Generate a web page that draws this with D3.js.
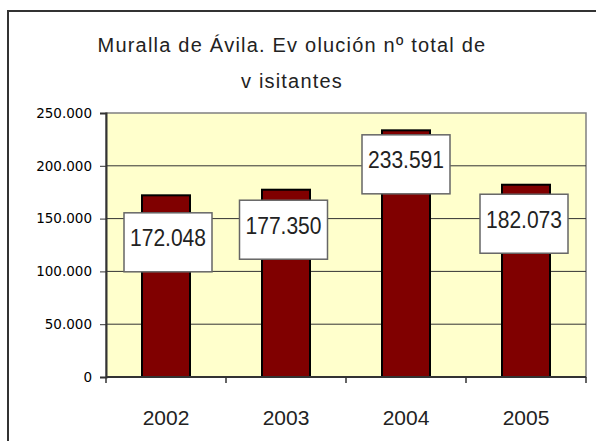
<!DOCTYPE html>
<html>
<head>
<meta charset="utf-8">
<script src="https://cdn.jsdelivr.net/npm/d3@7"></script>
<style>
  body { margin: 0; background: #fff; }
  svg { display: block; }
</style>
</head>
<body>
<script>
// data
var years = ["2002", "2003", "2004", "2005"];
var visitors = [172048, 177350, 233591, 182073];
var yTicks = [0, 50000, 100000, 150000, 200000, 250000];
var titleLines = ["Muralla de Ávila. Ev olución nº total de", "v isitantes"];

// label box nudges (layout only): box centre below bar top, and sideways shift
var labelDy = [47, 40, 34, 39];
var labelDx = [2, -2.5, 0, -2];

var width = 596, height = 441;
var plot = { left: 106, right: 586, top: 113, bottom: 377 };

var es = d3.formatLocale({ decimal: ",", thousands: ".", grouping: [3], currency: ["", " €"] });
var fmt = es.format(",d");

var svg = d3.select("body").append("svg")
  .attr("width", width)
  .attr("height", height);

// chart area border
svg.append("rect")
  .attr("x", 8).attr("y", 11)
  .attr("width", 620).attr("height", 460)
  .attr("fill", "#fff")
  .attr("stroke", "#333")
  .attr("stroke-width", 2);

var x = d3.scaleBand()
  .domain(years)
  .range([plot.left, plot.right])
  .paddingInner(0.6)
  .paddingOuter(0.3);

var y = d3.scaleLinear()
  .domain([0, 250000])
  .range([plot.bottom, plot.top]);

// plot background
svg.append("rect")
  .attr("x", plot.left).attr("y", plot.top)
  .attr("width", plot.right - plot.left)
  .attr("height", plot.bottom - plot.top)
  .attr("fill", "#ffffcc")
  .attr("stroke", "#808080")
  .attr("stroke-width", 1.5);

// gridlines
svg.append("g")
  .selectAll("line")
  .data(yTicks.filter(function (d) { return d > 0 && d < 250000; }))
  .enter().append("line")
  .attr("x1", plot.left).attr("x2", plot.right)
  .attr("y1", function (d) { return y(d); })
  .attr("y2", function (d) { return y(d); })
  .attr("stroke", "#333")
  .attr("stroke-width", 1);

// bars
svg.append("g")
  .selectAll("rect")
  .data(visitors)
  .enter().append("rect")
  .attr("x", function (d, i) { return x(years[i]); })
  .attr("y", function (d) { return y(d); })
  .attr("width", x.bandwidth())
  .attr("height", function (d) { return y(0) - y(d); })
  .attr("fill", "#800000")
  .attr("stroke", "#000")
  .attr("stroke-width", 2);

// y axis
var yAxis = svg.append("g")
  .attr("transform", "translate(" + plot.left + ",0)")
  .call(d3.axisLeft(y).tickValues(yTicks).tickSize(6).tickPadding(8).tickFormat(fmt));
yAxis.select(".domain").attr("stroke", "#333").attr("stroke-width", 2);
yAxis.selectAll(".tick line").attr("stroke", "#333");
yAxis.selectAll("text")
  .attr("font-family", "DejaVu Sans, Verdana, sans-serif")
  .attr("font-size", "13.5px")
  .attr("fill", "#000");

// x axis: ticks sit on category boundaries
var bounds = years.map(function (d) { return x(d) - x.step() * x.paddingInner() / 2; });
bounds.push(plot.right);
var xAxis = svg.append("g");
xAxis.append("line")
  .attr("x1", plot.left).attr("x2", plot.right)
  .attr("y1", plot.bottom).attr("y2", plot.bottom)
  .attr("stroke", "#333").attr("stroke-width", 2);
xAxis.selectAll(".xt")
  .data(bounds)
  .enter().append("line")
  .attr("class", "xt")
  .attr("x1", function (d) { return d; }).attr("x2", function (d) { return d; })
  .attr("y1", plot.bottom).attr("y2", plot.bottom + 6)
  .attr("stroke", "#333").attr("stroke-width", 1.5);
xAxis.selectAll("text")
  .data(years)
  .enter().append("text")
  .attr("x", function (d) { return x(d) + x.bandwidth() / 2; })
  .attr("y", 425)
  .attr("text-anchor", "middle")
  .attr("font-family", "Liberation Sans, Arial, sans-serif")
  .attr("font-size", "21px")
  .attr("fill", "#222")
  .text(function (d) { return d; });

// data labels in white boxes
var boxW = 88, boxH = 59;
var labels = svg.append("g")
  .selectAll("g")
  .data(visitors)
  .enter().append("g")
  .attr("transform", function (d, i) {
    var cx = x(years[i]) + x.bandwidth() / 2 + labelDx[i];
    var cy = y(d) + labelDy[i];
    return "translate(" + cx + "," + cy + ")";
  });
labels.append("rect")
  .attr("x", -boxW / 2).attr("y", -boxH / 2)
  .attr("width", boxW).attr("height", boxH)
  .attr("fill", "#fff")
  .attr("stroke", "#666")
  .attr("stroke-width", 1.5);
labels.append("text")
  .attr("x", 0)
  .attr("y", 4)
  .attr("text-anchor", "middle")
  .attr("font-family", "Liberation Sans, Arial, sans-serif")
  .attr("font-size", "23px")
  .attr("textLength", 76)
  .attr("lengthAdjust", "spacingAndGlyphs")
  .attr("fill", "#222")
  .text(function (d) { return fmt(d); });

// title
svg.append("g")
  .selectAll("text")
  .data(titleLines)
  .enter().append("text")
  .attr("x", 292)
  .attr("y", function (d, i) { return 52 + i * 36; })
  .attr("text-anchor", "middle")
  .attr("font-family", "Liberation Sans, Arial, sans-serif")
  .attr("font-size", "20px")
  .attr("letter-spacing", "1.2px")
  .attr("fill", "#222")
  .text(function (d) { return d; });
</script>
</body>
</html>
